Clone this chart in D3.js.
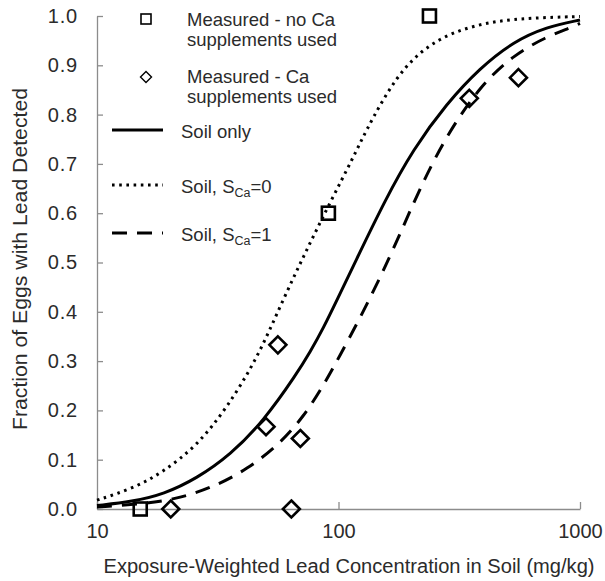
<!DOCTYPE html>
<html>
<head>
<meta charset="utf-8">
<script src="https://cdn.jsdelivr.net/npm/d3@7"></script>
<style>
  html, body { margin: 0; padding: 0; background: #fff; }
  svg { display: block; font-family: "Liberation Sans", Arial, sans-serif; }
</style>
</head>
<body>
<svg id="chart" width="605" height="581"></svg>
<script>
// ---- data ----
const xTicks = [10, 100, 1000];
const yTicks = [0, 0.1, 0.2, 0.3, 0.4, 0.5, 0.6, 0.7, 0.8, 0.9, 1.0];

// Measured - no Ca supplements used (squares)
const noCaX = [15.1, 90.8, 238];
const noCaY = [0.0, 0.6, 1.0];

// Measured - Ca supplements used (diamonds)
const caX = [20.2, 50.1, 56.1, 63.8, 69.5, 348, 556];
const caY = [0.0, 0.167, 0.333, 0.0, 0.143, 0.833, 0.875];

// Soil only (solid)
const soilX = [10, 14, 18.9, 25.9, 35.7, 48.9, 67.3, 76.2, 86.6, 98.6, 117, 156, 204, 280, 386, 530, 728, 1000];
const soilY = [0.007, 0.015, 0.03, 0.062, 0.11, 0.178, 0.275, 0.318, 0.367, 0.424, 0.5, 0.627, 0.73, 0.822, 0.895, 0.948, 0.978, 0.992];

// Soil, S_Ca = 0 (dotted)
const sca0X = [10, 14.2, 18.9, 25.9, 34.5, 46, 57.4, 72, 90.8, 117, 127, 174, 239, 329, 452, 621, 1000];
const sca0Y = [0.018, 0.042, 0.076, 0.128, 0.205, 0.305, 0.412, 0.515, 0.615, 0.72, 0.758, 0.882, 0.945, 0.975, 0.99, 0.996, 0.999];

// Soil, S_Ca = 1 (dashed)
const sca1X = [10, 16.1, 22.1, 30.4, 41.8, 57.4, 71.8, 86.6, 101, 123, 149, 180, 217, 280, 386, 530, 728, 910, 1000];
const sca1Y = [0.004, 0.011, 0.022, 0.045, 0.08, 0.133, 0.188, 0.25, 0.31, 0.388, 0.47, 0.558, 0.65, 0.758, 0.858, 0.921, 0.958, 0.976, 0.985];

const legendLabels = [
  ["Measured - no Ca", "supplements used"],
  ["Measured - Ca", "supplements used"],
  "Soil only",
  "0",
  "1"
];
const yTitle = "Fraction  of Eggs with Lead Detected";
const xTitle = "Exposure-Weighted Lead Concentration in Soil (mg/kg)";

// ---- drawing ----
const svg = d3.select("#chart");
const plotLeft = 97, plotRight = 580, plotTop = 16, plotBottom = 509;
const axisColor = "#8c8c8c";
const textColor = "#2b2b2b";

const x = d3.scaleLog().domain([10, 1000]).range([plotLeft, plotRight]);
const y = d3.scaleLinear().domain([0, 1]).range([plotBottom, plotTop]);

// Y axis (ticks inside)
const yAxis = svg.append("g").attr("transform", `translate(${plotLeft},0)`)
  .call(d3.axisLeft(y).tickValues(yTicks).tickFormat(d3.format(".1f"))
    .tickSizeInner(-6).tickSizeOuter(0).tickPadding(19));
yAxis.select(".domain").attr("stroke", axisColor).attr("stroke-width", 1.3);
yAxis.selectAll(".tick line").attr("stroke", axisColor).attr("stroke-width", 1.3);
yAxis.selectAll(".tick text").attr("fill", textColor)
  .style("font-size", "20px").style("letter-spacing", "0.8px")
  .style("font-family", "'Liberation Sans', Arial, sans-serif");

// X axis (ticks inside)
const xAxis = svg.append("g").attr("transform", `translate(0,${plotBottom})`)
  .call(d3.axisBottom(x).tickValues(xTicks).tickFormat(d3.format("d"))
    .tickSizeInner(-7).tickSizeOuter(0).tickPadding(15));
xAxis.select(".domain").attr("stroke", axisColor).attr("stroke-width", 1.3);
xAxis.selectAll(".tick line").attr("stroke", axisColor).attr("stroke-width", 1.3);
xAxis.selectAll(".tick text").attr("fill", textColor)
  .style("font-size", "20px")
  .style("font-family", "'Liberation Sans', Arial, sans-serif");

// Curves
const line = d3.line().x(d => x(d[0])).y(d => y(d[1])).curve(d3.curveBasis);
const series = [
  { xs: soilX, ys: soilY, dash: null },
  { xs: sca0X, ys: sca0Y, dash: "2.6,4.6" },
  { xs: sca1X, ys: sca1Y, dash: "15,10" }
];
series.forEach(s => {
  svg.append("path")
    .datum(s.xs.map((v, i) => [v, s.ys[i]]))
    .attr("d", line)
    .attr("fill", "none")
    .attr("stroke", "#000")
    .attr("stroke-width", 3)
    .attr("stroke-dasharray", s.dash);
});

// Squares
const sq = 13;
svg.append("g").selectAll("rect")
  .data(noCaX.map((v, i) => [v, noCaY[i]]))
  .join("rect")
  .attr("x", d => x(d[0]) - sq / 2)
  .attr("y", d => y(d[1]) - sq / 2)
  .attr("width", sq).attr("height", sq)
  .attr("fill", "none").attr("stroke", "#000").attr("stroke-width", 2.6);

// Diamonds
const dr = 8.5;
svg.append("g").selectAll("path")
  .data(caX.map((v, i) => [v, caY[i]]))
  .join("path")
  .attr("d", d => {
    const cx = x(d[0]), cy = y(d[1]);
    return `M${cx},${cy - dr}L${cx + dr},${cy}L${cx},${cy + dr}L${cx - dr},${cy}Z`;
  })
  .attr("fill", "none").attr("stroke", "#000").attr("stroke-width", 2.6);

// Legend
const lg = svg.append("g").style("font-size", "18.5px").attr("fill", textColor);
lg.append("rect").attr("x", 141).attr("y", 14).attr("width", 10).attr("height", 10)
  .attr("fill", "none").attr("stroke", "#000").attr("stroke-width", 1.6);
lg.append("text").attr("x", 187).attr("y", 26).text(legendLabels[0][0]);
lg.append("text").attr("x", 187).attr("y", 46).text(legendLabels[0][1]);
const ldx = 146, ldy = 77, ldr = 5.5;
lg.append("path")
  .attr("d", `M${ldx},${ldy - ldr}L${ldx + ldr},${ldy}L${ldx},${ldy + ldr}L${ldx - ldr},${ldy}Z`)
  .attr("fill", "none").attr("stroke", "#000").attr("stroke-width", 1.4);
lg.append("text").attr("x", 187).attr("y", 83).text(legendLabels[1][0]);
lg.append("text").attr("x", 187).attr("y", 103).text(legendLabels[1][1]);
const lineEntries = [
  { yy: 130, dash: null, label: legendLabels[2], sub: false },
  { yy: 185, dash: "2.6,4.6", label: legendLabels[3], sub: true },
  { yy: 233, dash: "15,10", label: legendLabels[4], sub: true }
];
lineEntries.forEach(e => {
  lg.append("line").attr("x1", 112).attr("x2", 163).attr("y1", e.yy).attr("y2", e.yy)
    .attr("stroke", "#000").attr("stroke-width", 3).attr("stroke-dasharray", e.dash);
  const t = lg.append("text").attr("x", 181).attr("y", e.yy + 8);
  if (!e.sub) {
    t.text(e.label);
  } else {
    t.append("tspan").text("Soil, S");
    t.append("tspan").attr("dy", 4).style("font-size", "12.5px").text("Ca");
    t.append("tspan").attr("dy", -4).text("=" + e.label);
  }
});

// Axis titles
svg.append("text")
  .attr("x", 349).attr("y", 573)
  .attr("text-anchor", "middle")
  .attr("fill", textColor)
  .style("font-size", "20px")
  .attr("textLength", 491).attr("lengthAdjust", "spacingAndGlyphs")
  .text(xTitle);

svg.append("text")
  .attr("transform", "translate(27,259) rotate(-90)")
  .attr("text-anchor", "middle")
  .attr("fill", textColor)
  .style("font-size", "19.5px")
  .attr("textLength", 342).attr("lengthAdjust", "spacingAndGlyphs")
  .text(yTitle);
</script>
</body>
</html>
